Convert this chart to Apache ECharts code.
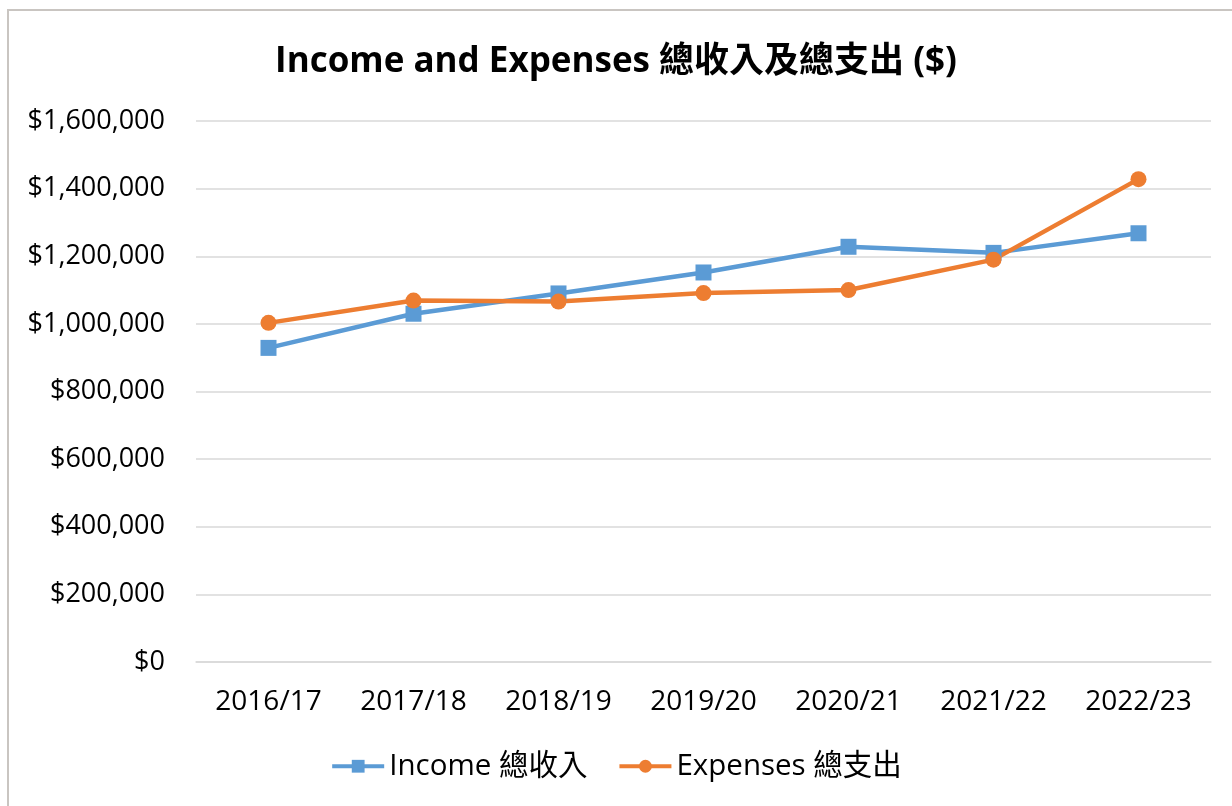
<!DOCTYPE html>
<html>
<head>
<meta charset="utf-8">
<script src="https://cdn.jsdelivr.net/npm/echarts@6/dist/echarts.min.js"></script>
<style>
  html, body { margin: 0; padding: 0; background: #fff; }
  #main { width: 1232px; height: 806px; }
</style>
</head>
<body>
<div id="main"></div>
<script>
// 數據
var years = ['2016/17', '2017/18', '2018/19', '2019/20', '2020/21', '2021/22', '2022/23'];
var income = [929000, 1030000, 1090000, 1152000, 1228000, 1210000, 1268000];
var expenses = [1003000, 1069000, 1066000, 1091000, 1100000, 1190000, 1428000];
var yTicks = [0, 200000, 400000, 600000, 800000, 1000000, 1200000, 1400000, 1600000];

var FONT = '"Open Sans", "Noto Sans CJK TC", sans-serif';

function money(v) {
    return '$' + v.toString().replace(/\B(?=(\d{3})+(?!\d))/g, ',');
}

var myChart = echarts.init(document.getElementById('main'));
var option = {
    backgroundColor: '#fff',
    animation: false,
    textStyle: { fontFamily: FONT },
    graphic: [{
        type: 'rect',
        shape: { x: 8, y: 10, width: 1400, height: 1000 },
        style: { fill: 'none', stroke: '#c9c5c1', lineWidth: 2 },
        silent: true
    }],
    title: {
        text: 'Income and Expenses 總收入及總支出 ($)',
        left: 'center',
        top: 40,
        textStyle: {
            fontFamily: FONT,
            fontWeight: 'bold',
            fontSize: 35,
            color: '#000'
        }
    },
    legend: {
        bottom: 20,
        left: 'center',
        itemWidth: 52,
        itemHeight: 16,
        itemGap: 30,
        lineStyle: { width: 4 },
        textStyle: { fontFamily: FONT, fontSize: 29.5, color: '#000' },
        data: ['Income 總收入', 'Expenses 總支出']
    },
    grid: {
        top: 121,
        left: 196,
        right: 21,
        bottom: 144,
        containLabel: false
    },
    xAxis: {
        type: 'category',
        data: years,
        boundaryGap: true,
        axisLine: { lineStyle: { color: '#d9d9d9', width: 1.5 } },
        axisTick: { show: false },
        axisLabel: { fontFamily: FONT, fontSize: 28, color: '#000', margin: 26 }
    },
    yAxis: {
        type: 'value',
        min: yTicks[0],
        max: yTicks[yTicks.length - 1],
        interval: yTicks[1] - yTicks[0],
        axisLine: { show: false },
        axisTick: { show: false },
        axisLabel: {
            fontFamily: FONT, fontSize: 27, color: '#000', margin: 31,
            formatter: money
        },
        splitLine: { lineStyle: { color: '#d9d9d9', width: 1.5 } }
    },
    series: [{
        name: 'Income 總收入',
        type: 'line',
        data: income,
        symbol: 'rect',
        symbolSize: 16,
        color: '#5b9bd5',
        lineStyle: { width: 4.5, color: '#5b9bd5' },
        itemStyle: { color: '#5b9bd5' }
    }, {
        name: 'Expenses 總支出',
        type: 'line',
        data: expenses,
        symbol: 'circle',
        symbolSize: 16,
        color: '#ed7d31',
        lineStyle: { width: 4.5, color: '#ed7d31' },
        itemStyle: { color: '#ed7d31' }
    }]
};
myChart.setOption(option);
</script>
</body>
</html>
